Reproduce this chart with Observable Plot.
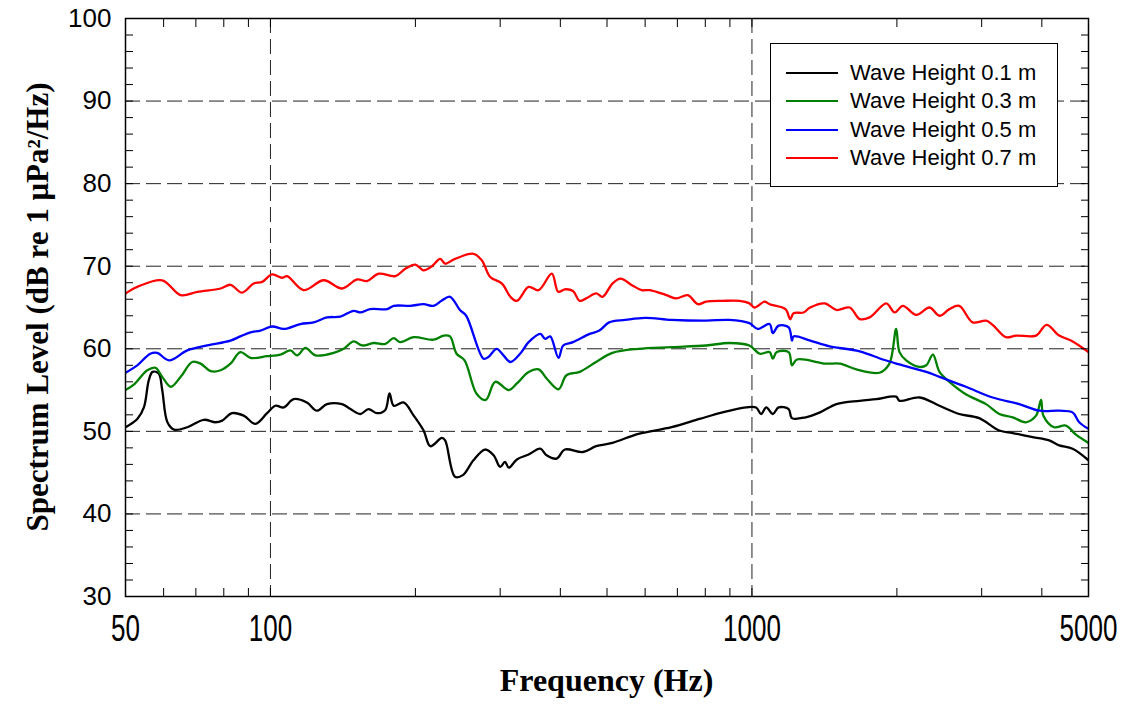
<!DOCTYPE html>
<html>
<head>
<meta charset="utf-8">
<script src="https://cdn.jsdelivr.net/npm/d3@7"></script>
<script src="https://cdn.jsdelivr.net/npm/@observablehq/plot@0.6"></script>
<style>
  body { margin: 0; background: #fff; }
  #wrap { position: relative; width: 1126px; height: 704px; overflow: hidden; }
  #wrap svg { position: absolute; left: 0; top: 0; }
  .xtitle { position: absolute; left: 125px; width: 963px; top: 660px; text-align: center;
            font-family: "Liberation Serif", "Times New Roman", serif; font-weight: bold; font-size: 32px; line-height: 40px; }
  .ytitle { position: absolute; left: 38px; top: 307px; width: 0; height: 0; }
  .ytitle span { position: absolute; left: 0; top: 0; transform: translate(-50%, -50%) rotate(-90deg); white-space: nowrap;
            font-family: "Liberation Serif", "Times New Roman", serif; font-weight: bold; font-size: 31px; line-height: 36px; }
  .legend { position: absolute; left: 770px; top: 43px; width: 288px; height: 144px; border: 1.5px solid #000;
            background: #fff; box-sizing: border-box; font-family: "Liberation Sans", Arial, sans-serif; font-size: 22px; }
  .legend .row { position: absolute; left: 0; height: 28px; width: 100%; }
  .legend .sw { position: absolute; left: 15px; width: 52px; top: 13px; height: 0; border-top: 2.5px solid #000; }
  .legend .lab { position: absolute; left: 79px; top: 0; line-height: 28px; white-space: nowrap; }
</style>
</head>
<body>
<div id="wrap"></div>
<script>
// ---- data ----
const seriesNames = ["Wave Height 0.1 m", "Wave Height 0.3 m", "Wave Height 0.5 m", "Wave Height 0.7 m"];
const seriesColors = ["#000000", "#008000", "#0000ff", "#ff0000"];

const freq01 = [50, 52.9, 54.6, 55.9, 56.9, 58.6, 59.6, 61.1, 63.1, 67.2, 72.7, 76.9, 79.4, 83.2, 88, 93.1, 98.4, 102.4, 106.6, 111.7, 119, 124.9, 131, 140.8, 146.6, 153.7, 159.8, 166.5, 173.2, 176.7, 180.3, 189, 198.4, 208, 214.8, 227, 230.6, 241.7, 251, 264, 279, 290.7, 300, 307, 312.6, 325, 343.7, 363.5, 374.6, 393, 408.7, 445.6, 474.6, 513, 581, 681, 778, 869, 972, 1020, 1045, 1071, 1105, 1136, 1192, 1211, 1293, 1385, 1498, 1674, 1812, 1993, 2025, 2230, 2452, 2695, 2964, 3264, 3480, 3826, 4143, 4346, 4633, 5000];
const level01 = [50.5, 51.5, 52.9, 56.2, 57.2, 57.0, 55.0, 51.1, 50.2, 50.5, 51.4, 51.1, 51.3, 52.2, 51.9, 50.9, 52.2, 53.1, 52.9, 53.9, 53.5, 52.5, 53.3, 53.3, 52.7, 52.1, 52.7, 52.2, 52.6, 54.6, 53.1, 53.5, 51.9, 50.1, 48.2, 49.2, 48.9, 44.5, 44.7, 46.5, 47.8, 47.1, 45.7, 46.3, 45.6, 46.6, 47.2, 47.9, 47.1, 46.7, 47.8, 47.5, 48.2, 48.6, 49.7, 50.5, 51.5, 52.3, 52.9, 52.9, 52.1, 52.9, 52.1, 52.9, 52.7, 51.6, 51.7, 52.3, 53.3, 53.7, 53.9, 54.2, 53.7, 54.1, 53.1, 52.1, 51.6, 50.1, 49.8, 49.3, 48.9, 48.3, 47.9, 46.5];

const freq03 = [50, 52.1, 55.5, 57.7, 59.6, 62.1, 65.1, 68.8, 71.6, 75.1, 78.8, 82.6, 86.6, 90.9, 98.4, 104.9, 110, 113.6, 118.2, 124, 135.3, 141.9, 148.9, 155, 163.9, 173.2, 180.3, 185.8, 198.4, 218, 229, 236, 243.5, 253, 268, 280, 293, 312.6, 325, 343.7, 360.6, 374.6, 396.5, 412, 438.7, 474.6, 513, 581, 681, 803, 898, 988, 1038, 1088, 1105, 1126, 1192, 1211, 1240, 1424, 1522, 1648, 1840, 1930, 1993, 2025, 2091, 2230, 2302, 2376, 2452, 2571, 2781, 3063, 3264, 3480, 3706, 3891, 3985, 4030, 4242, 4486, 4708, 5000];
const level03 = [55.0, 55.7, 57.4, 57.7, 56.6, 55.4, 56.6, 58.4, 58.2, 57.3, 57.4, 58.2, 59.6, 58.9, 59.1, 59.3, 59.8, 59.2, 60.1, 59.2, 59.5, 60.0, 60.9, 60.4, 60.7, 60.6, 61.3, 60.8, 61.4, 61.1, 61.6, 61.5, 59.4, 58.6, 54.55, 53.8, 56.0, 55.0, 55.8, 57.2, 57.5, 56.4, 55.1, 56.8, 57.2, 58.4, 59.5, 60.0, 60.2, 60.4, 60.7, 60.4, 59.4, 59.6, 58.8, 59.6, 59.6, 58.0, 58.7, 58.2, 58.2, 57.5, 57.1, 58.2, 62.4, 59.6, 58.6, 57.8, 58.0, 59.3, 57.2, 56.0, 54.5, 53.3, 52.1, 51.7, 51.1, 51.9, 53.8, 51.9, 50.5, 50.7, 49.6, 48.6];

const freq05 = [50, 52.9, 56.3, 58.2, 61.6, 67.2, 73.9, 82.6, 86.6, 90.9, 95.3, 100.8, 106.6, 115.4, 123, 131, 139.7, 148.9, 153.7, 161, 174.6, 180.3, 195.2, 208, 218, 227, 236, 247.5, 255, 277, 283.5, 295, 304.7, 315, 330, 343.7, 363.5, 372, 381, 396.5, 405.6, 425, 460, 482, 505, 546, 600, 681, 803, 898, 988, 1028, 1088, 1105, 1136, 1192, 1211, 1220, 1321, 1450, 1674, 1870, 2025, 2302, 2452, 2781, 3161, 3592, 3953, 4346, 4633, 4783, 5000];
const level05 = [57.1, 58.0, 59.4, 59.5, 58.6, 59.8, 60.4, 61.0, 61.5, 62.0, 62.2, 62.7, 62.4, 63.0, 63.2, 63.8, 63.9, 64.6, 64.4, 64.8, 64.8, 65.2, 65.2, 65.4, 65.2, 65.85, 66.3, 64.7, 64.0, 58.8, 59.0, 60.0, 59.2, 58.4, 59.4, 60.8, 61.8, 61.2, 61.5, 58.9, 60.4, 60.8, 61.8, 62.2, 63.2, 63.5, 63.75, 63.5, 63.4, 63.5, 63.1, 62.4, 63.0, 61.9, 62.8, 62.6, 61.0, 61.5, 61.0, 60.3, 59.7, 58.7, 58.1, 57.2, 56.6, 55.4, 54.1, 53.3, 52.5, 52.5, 52.3, 51.1, 50.3];

const freq07 = [50, 52.9, 59.6, 65.1, 70.5, 78.8, 82.6, 87.3, 92.3, 96.1, 100.8, 105.7, 108.3, 117.2, 129, 140.8, 151.4, 158.6, 167.8, 181.7, 190.6, 200, 207.9, 216.5, 225.2, 230.6, 240, 264, 274.9, 286, 302.6, 315, 325, 343.7, 360.6, 384, 396, 408.7, 425, 438.7, 452.6, 474.6, 489.6, 513.2, 533.6, 563.5, 590, 613.7, 663.9, 696, 735.8, 771.7, 803, 869, 942, 988, 1012, 1062, 1088, 1174, 1201, 1220, 1280, 1321, 1417, 1498, 1596, 1674, 1756, 1901, 1978, 2058, 2194, 2338, 2452, 2571, 2695, 2872, 3063, 3161, 3370, 3536, 3891, 4092, 4346, 4597, 5000];
const level07 = [66.7, 67.5, 68.3, 66.5, 66.9, 67.3, 67.75, 66.8, 67.9, 68.1, 69.0, 68.6, 68.8, 67.1, 68.3, 67.3, 68.4, 68.2, 69.1, 68.8, 69.7, 70.2, 69.5, 70.0, 70.9, 70.3, 70.8, 71.5, 70.7, 68.7, 67.9, 66.3, 65.8, 67.5, 67.1, 69.1, 66.9, 67.2, 67.0, 65.8, 66.1, 66.7, 66.3, 67.9, 68.5, 67.7, 67.1, 67.1, 66.5, 66.1, 66.5, 65.4, 65.7, 65.8, 65.8, 65.5, 65.0, 65.7, 65.4, 64.8, 63.6, 64.3, 64.4, 65.0, 65.5, 64.7, 65.0, 63.6, 63.8, 65.5, 64.4, 65.2, 64.1, 65.0, 64.0, 64.8, 65.2, 63.2, 63.4, 62.9, 61.4, 61.6, 61.6, 62.9, 61.6, 61.0, 59.6];

const yLabelTicks = [30, 40, 50, 60, 70, 80, 90, 100];
const yGridTicks = [40, 50, 60, 70, 80, 90];
const yMinorTicks = d3.range(30, 101, 2);
const xLabelTicks = [50, 100, 1000, 5000];
const xGridTicks = [100, 1000];
const xMinorTicks = [50, 60, 70, 80, 90, 100, 200, 300, 400, 500, 600, 700, 800, 900, 1000, 2000, 3000, 4000, 5000];

// ---- build table ----
const freqs = [freq01, freq03, freq05, freq07];
const levels = [level01, level03, level05, level07];
const rows = [];
seriesNames.forEach((name, i) => {
  freqs[i].forEach((f, j) => rows.push({series: name, f, db: levels[i][j]}));
});

const chart = Plot.plot({
  width: 1126,
  height: 704,
  marginTop: 18,
  marginBottom: 108,
  marginLeft: 125,
  marginRight: 38,
  style: {fontFamily: "'Liberation Sans', Arial, sans-serif", fontSize: "26px", color: "#000", background: "#fff"},
  x: {type: "log", domain: [50, 5000]},
  y: {domain: [30, 100]},
  color: {domain: seriesNames, range: seriesColors},
  marks: [
    Plot.gridY(yGridTicks, {stroke: "#222", strokeOpacity: 1, strokeWidth: 1, strokeDasharray: "15,6"}),
    Plot.gridX(xGridTicks, {stroke: "#222", strokeOpacity: 1, strokeWidth: 1, strokeDasharray: "15,6"}),
    Plot.line(rows, {x: "f", y: "db", z: "series", stroke: "series", strokeWidth: 2.3, curve: "catmull-rom", clip: true}),
    Plot.frame({stroke: "#000", strokeWidth: 1.5}),
    Plot.axisY(yMinorTicks, {anchor: "left", tickSize: -8, fill: "none", label: null}),
    Plot.axisY(yMinorTicks, {anchor: "right", tickSize: -8, fill: "none", label: null}),
    Plot.axisX(xMinorTicks, {anchor: "bottom", tickSize: -8, fill: "none", label: null}),
    Plot.axisX(xMinorTicks, {anchor: "top", tickSize: -8, fill: "none", label: null}),
    Plot.axisY(yLabelTicks, {anchor: "left", tickSize: 0, tickPadding: 14, label: null, fontSize: 26}),
    Plot.axisX(xLabelTicks, {anchor: "bottom", tickSize: 0, tickPadding: 19, label: null, fontSize: 26, tickFormat: d => String(d)})
  ]
});

const wrap = document.getElementById("wrap");
wrap.appendChild(chart);

// taller x tick labels as in the reference
d3.select(chart).selectAll('[aria-label="x-axis tick label"] text').each(function () {
  const t = this.getAttribute("transform") || "";
  this.setAttribute("transform", t + " scale(1,1.4)");
});

// axis titles
const xt = document.createElement("div");
xt.className = "xtitle";
xt.textContent = "Frequency (Hz)";
wrap.appendChild(xt);

const yt = document.createElement("div");
yt.className = "ytitle";
yt.innerHTML = '<span>Spectrum Level (dB re 1 μPa²/Hz)</span>';
wrap.appendChild(yt);

// legend
const lg = document.createElement("div");
lg.className = "legend";
seriesNames.forEach((name, i) => {
  const r = document.createElement("div");
  r.className = "row";
  r.style.top = (15 + i * 28.3) + "px";
  const sw = document.createElement("div");
  sw.className = "sw";
  sw.style.borderTopColor = seriesColors[i];
  const lab = document.createElement("div");
  lab.className = "lab";
  lab.textContent = name;
  r.appendChild(sw);
  r.appendChild(lab);
  lg.appendChild(r);
});
wrap.appendChild(lg);
</script>
</body>
</html>
